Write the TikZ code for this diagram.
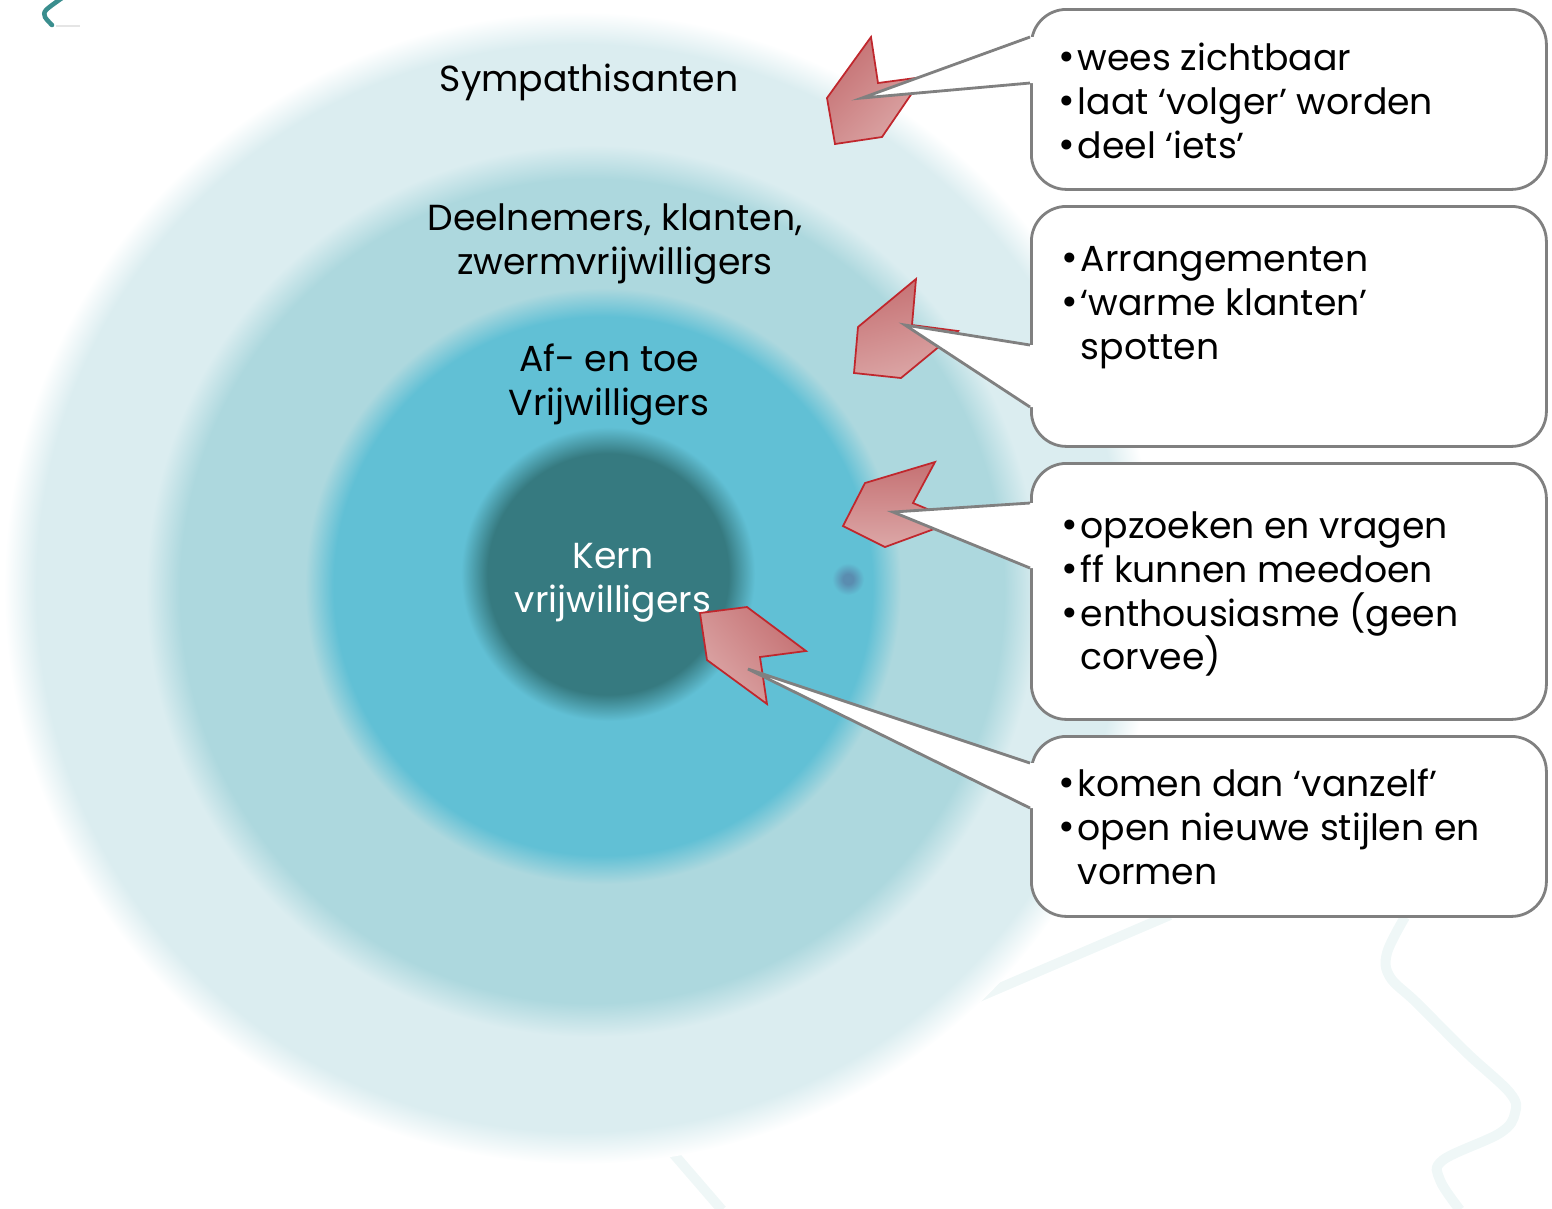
\documentclass[tikz,border=0pt]{standalone}
\usepackage{fontspec}
\setmainfont{Poppins}
\usetikzlibrary{positioning,calc}
\definecolor{symTeal}{HTML}{DBEDF0}
\definecolor{deelTeal}{HTML}{ADD8DE}
\definecolor{afTeal}{HTML}{61C0D5}
\definecolor{kernTeal}{HTML}{367A80}
\definecolor{dotBlue}{HTML}{5A8DB0}
\definecolor{calloutGray}{HTML}{808080}
\definecolor{arrowRed}{HTML}{C0272D}
\definecolor{arrowDark}{HTML}{C57173}
\definecolor{arrowLight}{HTML}{DCA7A7}
\definecolor{decoLine}{HTML}{EFF7F7}
\definecolor{decoTeal}{HTML}{3A8E8E}
% soft edged rings
\pgfdeclareradialshading{symRing}{\pgfpointorigin}{color(0bp)=(symTeal); color(23.6bp)=(symTeal); color(25bp)=(white); color(50bp)=(white)}
\pgfdeclareradialshading{deelRing}{\pgfpointorigin}{color(0bp)=(deelTeal); color(23.1bp)=(deelTeal); color(25bp)=(symTeal); color(50bp)=(symTeal)}
\pgfdeclareradialshading{afRing}{\pgfpointorigin}{color(0bp)=(afTeal); color(22.6bp)=(afTeal); color(25bp)=(deelTeal); color(50bp)=(deelTeal)}
\pgfdeclareradialshading{kernRing}{\pgfpointorigin}{color(0bp)=(kernTeal); color(20.5bp)=(kernTeal); color(25bp)=(afTeal); color(50bp)=(afTeal)}
\pgfdeclareradialshading{dotSpot}{\pgfpointorigin}{color(0bp)=(dotBlue); color(8bp)=(dotBlue); color(25bp)=(afTeal); color(50bp)=(afTeal)}
\newcommand{\bl}{\makebox[0.19cm][l]{\fontsize{11.5pt}{11.5pt}\selectfont •}}
\newcommand{\nobl}{\hspace*{0.19cm}}

\begin{document}
\begin{tikzpicture}[
        ringlabel/.style={align=center, inner sep=0pt, font=\fontsize{10.3pt}{12.5pt}\selectfont},
        bullets/.style={align=left, inner sep=0pt, anchor=west, font=\fontsize{10.3pt}{12.5pt}\selectfont},
        callout/.style={draw=calloutGray, line width=0.8pt, fill=white, rounded corners=0.35cm,
                        minimum width=5.15cm, inner sep=0pt, anchor=north west},
        wedge/.style={draw=calloutGray, line width=0.8pt, line join=miter},
        redarrow/.style={draw=arrowRed, line width=0.5pt, top color=arrowDark, bottom color=arrowLight}
      ]
        \useasboundingbox (0,0) rectangle (15.52,-12.08);
        % faint slide decoration
        \draw[decoLine, line width=0.1cm] (6.40,-11.15) -- (7.22,-12.10);
        \draw[decoLine, line width=0.1cm] (9.60,-10.05) -- (11.70,-9.15);
        \draw[decoLine, line width=0.1cm] plot[smooth, tension=0.6] coordinates {(14.05,-9.17) (13.87,-9.53) (13.90,-9.77) (14.17,-10.03) (14.67,-10.53) (15.10,-10.93) (15.15,-11.13) (15.00,-11.33) (14.43,-11.60) (14.40,-11.80) (14.60,-12.10)};
        \draw[decoTeal, line width=1.3pt, line cap=round] plot[smooth] coordinates {(0.62,0.02) (0.46,-0.10) (0.45,-0.17) (0.52,-0.25)};
        \draw[black!10, line width=0.4pt] (0.56,-0.26) -- (0.80,-0.26);
        % rings, outside in
        \shade[shading=symRing] (5.80,-5.88) circle (5.76);
        \shade[shading=deelRing] (5.92,-5.91) circle (4.46);
        \shade[shading=afRing] (6.03,-5.86) circle (2.98);
        \shade[shading=kernRing] (6.08,-5.74) circle (1.47);
        \shade[shading=dotSpot] (8.48,-5.79) circle (0.16);
        % ring labels
        \node[ringlabel] (symp) at (5.89,-0.82) {Sympathisanten};
        \node[ringlabel] (deel) at (6.15,-2.44) {Deelnemers, klanten,\\zwermvrijwilligers};
        \node[ringlabel] (afen) at (6.09,-3.85) {Af- en toe\\Vrijwilligers};
        \node[ringlabel, text=white] (kern) at (6.13,-5.83) {Kern\\vrijwilligers};
        % red block arrows
        \draw[redarrow, shading angle=45] (8.71,-0.37) -- (8.78,-0.83) -- (9.23,-0.77) -- (8.82,-1.37) -- (8.35,-1.44) -- (8.27,-0.98) -- cycle;
        \draw[redarrow, shading angle=15] (9.16,-2.79) -- (9.12,-3.25) -- (9.58,-3.31) -- (9.01,-3.78) -- (8.54,-3.73) -- (8.58,-3.27) -- cycle;
        \draw[redarrow] (9.35,-4.62) -- (9.13,-5.03) -- (9.56,-5.21) -- (8.85,-5.47) -- (8.43,-5.26) -- (8.65,-4.83) -- cycle;
        \draw[redarrow, shading angle=-50] (7.00,-6.13) -- (7.47,-6.07) -- (8.06,-6.51) -- (7.60,-6.57) -- (7.67,-7.04) -- (7.07,-6.60) -- cycle;
        % callout boxes
        \node[callout, minimum height=1.80cm] (b1) at (10.30,-0.08) {};
        \node[callout, minimum height=2.40cm] (b2) at (10.30,-2.05) {};
        \node[callout, minimum height=2.56cm] (b3) at (10.30,-4.62) {};
        \node[callout, minimum height=1.80cm] (b4) at (10.30,-7.35) {};
        \coordinate (t1) at (8.62,-0.98);
        \coordinate (t2) at (9.05,-3.25);
        \coordinate (t3) at (8.93,-5.12);
        \coordinate (t4) at (7.48,-6.69);
        \foreach \b/\t/\u/\l in {b1/t1/0.29/0.75, b2/t2/1.40/2.02, b3/t3/0.41/1.06, b4/t4/0.28/0.73} {
          \fill[white] ([shift={(0.06,-\u)}]\b.north west) -- ([yshift=-\u cm]\b.north west) -- (\t)
            -- ([yshift=-\l cm]\b.north west) -- ([shift={(0.06,-\l)}]\b.north west) -- cycle;
          \draw[wedge] ([yshift=-\u cm]\b.north west) -- (\t) -- ([yshift=-\l cm]\b.north west);
        }
        % callout texts
        \node[bullets] (l1) at (10.58,-1.01) {\bl wees zichtbaar\\\bl laat ‘volger’ worden\\\bl deel ‘iets’};
        \node[bullets] (l2) at (10.61,-3.08) {\bl Arrangementen\\\bl ‘warme klanten’\\\nobl spotten};
        \node[bullets] (l3) at (10.61,-5.94) {\bl opzoeken en vragen\\\bl ff kunnen meedoen\\\bl enthousiasme (geen\\\nobl corvee)};
        \node[bullets] (l4) at (10.58,-8.27) {\bl komen dan ‘vanzelf’\\\bl open nieuwe stijlen en\\\nobl vormen};
      \end{tikzpicture}
\end{document}
